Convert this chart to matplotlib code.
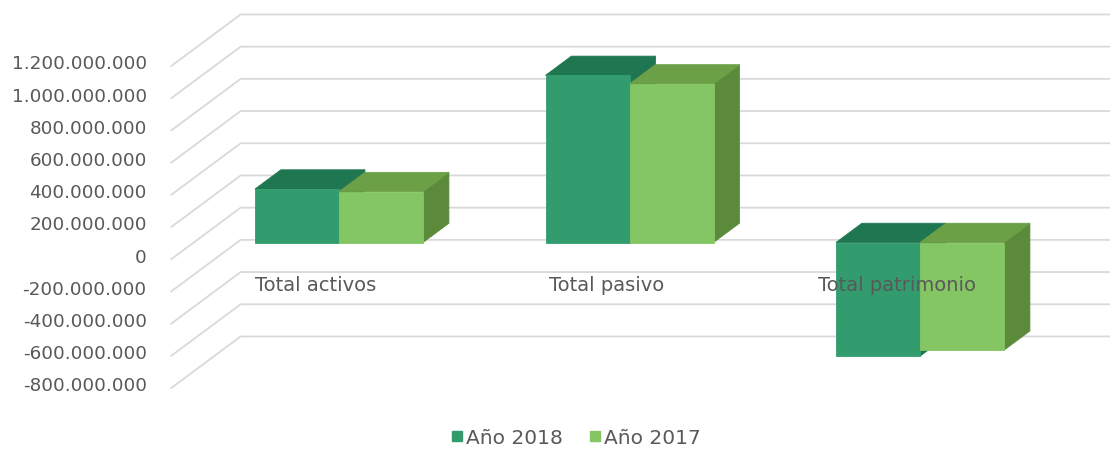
import numpy as np
import matplotlib
matplotlib.use('Agg')
import matplotlib.pyplot as plt
from matplotlib.patches import Polygon
from matplotlib.lines import Line2D

# ---------------- data ----------------
categories = ['Total activos', 'Total pasivo', 'Total patrimonio']
series_names = ['Año 2018', 'Año 2017']
values_2018 = [332e6, 1038e6, -706e6]
values_2017 = [316e6, 985e6, -669e6]
yticks = np.arange(-800e6, 1.2e9 + 1, 200e6)

# ---------------- style ----------------
col_2018 = {'front': '#339c6f', 'top': '#1f7752', 'side': '#1f7552'}
col_2017 = {'front': '#85c664', 'top': '#6ca047', 'side': '#5c8a3b'}
grid_col = '#d9d9d9'
text_col = '#595959'
FONT = 'DejaVu Sans'

W, H, DPI = 1110, 451, 100
fig = plt.figure(figsize=(W / DPI, H / DPI), dpi=DPI)
ax = fig.add_axes([0, 0, 1, 1])
ax.set_axis_off()

# scale: pixels per category unit and per value
px_cat = 290.5
px_val = 32.2 / 200e6
x_origin_px = 339.0
zero_from_bottom_px = H - 242.5
ax.set_xlim(-x_origin_px / px_cat, (W - x_origin_px) / px_cat)
ax.set_ylim(-zero_from_bottom_px / px_val, (H - zero_from_bottom_px) / px_val)

# oblique depth projection (full depth)
DX = 70 / px_cat
DY = 52 / px_val
d_front, d_back = -0.33, 0.67
bar_depth = 0.37
bar_w = 84 / px_cat
x_left, x_right = -0.5, 2.5


def P(x, v, d):
    return (x + d * DX, v + d * DY)


# gridlines (left wall diagonal + back wall horizontal)
for v in yticks:
    pts = [P(x_left, v, d_front), P(x_left, v, d_back), P(x_right, v, d_back)]
    xs, ys = zip(*pts)
    ax.plot(xs, ys, color=grid_col, lw=1.3, zorder=1, solid_capstyle='butt')
    lx, ly = P(x_left, v, d_front)
    label = f"{int(round(v)):,}".replace(',', '.')
    ax.annotate(label, (lx, ly), xytext=(-24, 2), textcoords='offset pixels',
                ha='right', va='center', fontsize=13.2, color=text_col,
                family=FONT, zorder=5)


def draw_bar(x0, x1, v, cols, z):
    top = max(v, 0)
    bot = min(v, 0)
    side = [P(x1, bot, 0), P(x1, bot, bar_depth), P(x1, top, bar_depth), P(x1, top, 0)]
    topf = [P(x0, top, 0), P(x1, top, 0), P(x1, top, bar_depth), P(x0, top, bar_depth)]
    front = [P(x0, bot, 0), P(x1, bot, 0), P(x1, top, 0), P(x0, top, 0)]
    for poly, key in ((side, 'side'), (topf, 'top'), (front, 'front')):
        ax.add_patch(Polygon(poly, closed=True, facecolor=cols[key],
                             edgecolor=cols[key], lw=0.6, zorder=z))


for i, cat in enumerate(categories):
    draw_bar(i - bar_w, i, values_2018[i], col_2018, 2 + i * 0.1)
    draw_bar(i, i + bar_w, values_2017[i], col_2017, 2.05 + i * 0.1)
    cx, cy = P(i, 0, d_front)
    ax.annotate(cat, (cx, cy), xytext=(0, -26), textcoords='offset pixels',
                ha='center', va='center', fontsize=14, color=text_col,
                family=FONT, zorder=6)

# legend
handles = [Line2D([], [], marker='s', ls='none', markersize=7.2,
                  markerfacecolor=col_2018['front'], markeredgecolor=col_2018['front']),
           Line2D([], [], marker='s', ls='none', markersize=7.2,
                  markerfacecolor=col_2017['front'], markeredgecolor=col_2017['front'])]
leg = ax.legend(handles, series_names, loc='center', ncol=2,
                bbox_to_anchor=(576 / W, 1 - 438 / H), frameon=False,
                handlelength=0.6, handletextpad=0.15, columnspacing=1.3,
                prop={'family': FONT, 'size': 14.5})
for t in leg.get_texts():
    t.set_color(text_col)

fig.savefig('out.png', dpi=DPI, facecolor='white')
